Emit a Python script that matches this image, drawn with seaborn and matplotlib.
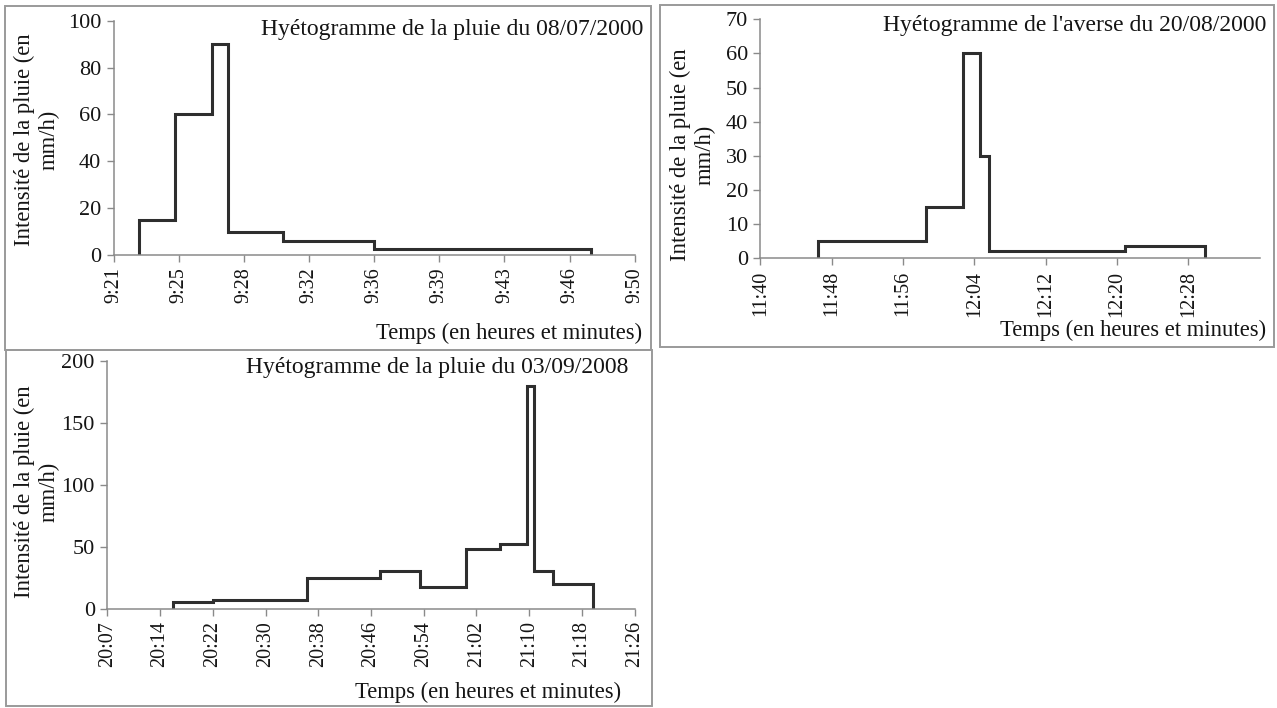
import numpy as np
import pandas as pd
import matplotlib
matplotlib.use("Agg")
import matplotlib.pyplot as plt
import seaborn as sns
from matplotlib.patches import Rectangle

# ---------------- data ----------------
ylabel_text = "Intensité de la pluie (en\nmm/h)"
xlabel_text = "Temps (en heures et minutes)"

p1_title = "Hyétogramme de la pluie du 08/07/2000"
p1_starts = ["09:22:24", "09:24:25", "09:26:28", "09:27:23", "09:30:26", "09:35:29"]
p1_end = "09:47:35"
p1_values = [15, 60, 90, 10, 6, 2.5]
p1_range = ["09:21:00", "09:50:00"]
p1_xticklabels = ["9:21", "9:25", "9:28", "9:32", "9:36", "9:39", "9:43", "9:46", "9:50"]
p1_yticks = [0, 20, 40, 60, 80, 100]

p2_title = "Hyétogramme de l'averse du 20/08/2000"
p2_starts = ["11:46:30", "11:58:36", "12:02:42", "12:04:36", "12:05:36", "12:20:54"]
p2_end = "12:29:54"
p2_values = [5, 15, 60, 30, 2, 3.5]
p2_range = ["11:40:00", "12:36:00"]
p2_xticklabels = ["11:40", "11:48", "11:56", "12:04", "12:12", "12:20", "12:28"]
p2_yticks = [0, 10, 20, 30, 40, 50, 60, 70]

p3_title = "Hyétogramme de la pluie du 03/09/2008"
p3_starts = ["20:16:54", "20:22:46", "20:36:54", "20:47:54", "20:53:54",
             "21:00:48", "21:05:48", "21:09:54", "21:10:54", "21:13:42"]
p3_end = "21:19:48"
p3_values = [5, 7, 25, 30, 17, 48, 52, 180, 30, 20]
p3_range = ["20:07:00", "21:26:00"]
p3_xticklabels = ["20:07", "20:14", "20:22", "20:30", "20:38", "20:46",
                  "20:54", "21:02", "21:10", "21:18", "21:26"]
p3_yticks = [0, 50, 100, 150, 200]

# ---------------- style ----------------
sns.set_style("ticks")
plt.rcParams["font.family"] = ["Liberation Serif", "DejaVu Serif"]

W, H = 1277, 708
fig = plt.figure(figsize=(W / 100, H / 100), dpi=100)
fig.patch.set_facecolor("white")

LINE = "#2e2e2e"
SPINE = "#8a8a8a"
TXT = "#151515"


def px(x, y):
    return x / W, 1 - y / H


def to_min(t, origin):
    fmt = "%H:%M:%S"
    return (pd.to_datetime(t, format=fmt) - pd.to_datetime(origin, format=fmt)).total_seconds() / 60.0


def panel(box, axbox, title, title_pos, xlabel_pos, ylabel_pos,
          starts, end, values, rng, xticklabels, yticks, n_intervals):
    bx0, by0, bx1, by1 = box
    fig.add_artist(Rectangle(px(bx0, by1), (bx1 - bx0) / W, (by1 - by0) / H,
                             transform=fig.transFigure, fill=False,
                             edgecolor="#9a9a9a", linewidth=1.4))
    l, r, top, bot = axbox
    ax = fig.add_axes([l / W, 1 - bot / H, (r - l) / W, (bot - top) / H])
    ax.set_facecolor("none")

    origin = rng[0]
    span = to_min(rng[1], origin)
    t = [to_min(s, origin) for s in starts]
    te = to_min(end, origin)
    xs = [t[0]] + t + [te, te]
    ys = [0] + list(values) + [values[-1], 0]
    df = pd.DataFrame({"t": xs, "i": ys})
    sns.lineplot(data=df, x="t", y="i", estimator=None, sort=False,
                 drawstyle="steps-post", color=LINE, linewidth=2.2,
                 solid_joinstyle="miter", ax=ax)

    step = span / n_intervals
    ax.set_xlim(0, span)
    ax.set_xticks([step * k for k in range(len(xticklabels))])
    ax.set_xticklabels(xticklabels, rotation=90, fontsize=14.5, color=TXT)
    ax.set_ylim(0, yticks[-1])
    ax.set_yticks(yticks)
    ax.set_yticklabels([str(v) for v in yticks], fontsize=16, color=TXT)
    ax.tick_params(axis="both", direction="out", length=5, width=1.0,
                   color=SPINE, pad=4)
    for s in ["top", "right"]:
        ax.spines[s].set_visible(False)
    for s in ["left", "bottom"]:
        ax.spines[s].set_color(SPINE)
        ax.spines[s].set_linewidth(1.1)

    ax.set_xlabel(xlabel_text, fontsize=16.3, color=TXT, ha="right", va="center")
    ax.xaxis.set_label_coords(*px(*xlabel_pos), transform=fig.transFigure)
    ax.set_ylabel(ylabel_text, fontsize=16.3, color=TXT, ha="center", va="center",
                  linespacing=1.2, multialignment="center")
    ax.yaxis.set_label_coords(*px(*ylabel_pos), transform=fig.transFigure)

    ax.text(*px(*title_pos), title, transform=fig.transFigure, ha="right",
            va="center", fontsize=17, color=TXT)
    return ax


panel((5, 6, 651, 350), (113.6, 634.7, 20.7, 255.0), p1_title, (643, 30),
      (642, 333), (36.5, 140), p1_starts, p1_end, p1_values, p1_range,
      p1_xticklabels, p1_yticks, 8)

panel((660, 5, 1274, 347), (760.4, 1259.6, 19.3, 258.3), p2_title, (1266, 25),
      (1266, 330), (693, 155), p2_starts, p2_end, p2_values, p2_range,
      p2_xticklabels, p2_yticks, 7)

panel((6, 350, 652, 706), (107.3, 634.7, 361.0, 608.5), p3_title, (628, 368),
      (621, 692), (37, 492), p3_starts, p3_end, p3_values, p3_range,
      p3_xticklabels, p3_yticks, 10)

fig.savefig("out.png", dpi=100, facecolor="white")
